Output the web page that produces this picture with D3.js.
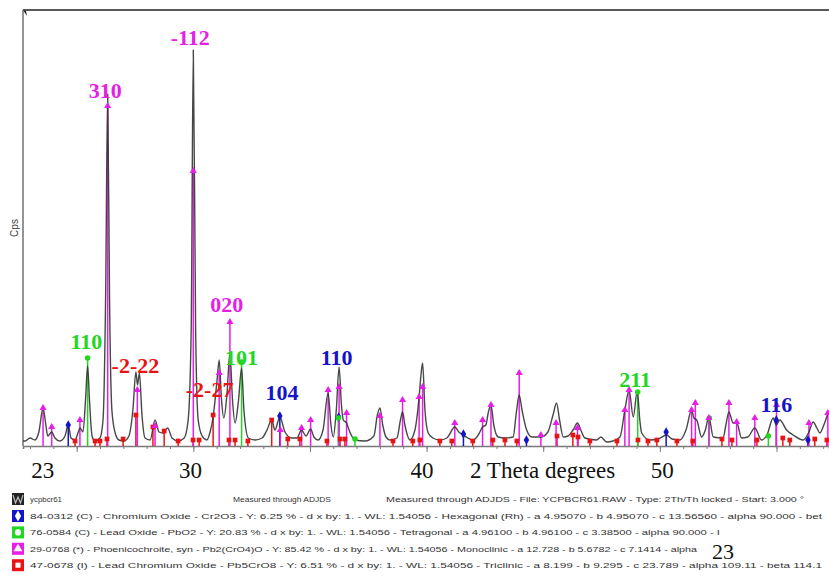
<!DOCTYPE html>
<html>
<head>
<meta charset="utf-8">
<script src="https://cdn.jsdelivr.net/npm/d3@7"></script>
<style>
  body { margin: 0; background: #fff; }
  svg { display: block; }
</style>
</head>
<body>
<div id="chart"></div>
<script>
// measured XRD profile, [2theta, cps]
const profile = [
  [22.70,50],[22.79,50],[23.00,80],[23.21,60],[23.38,140],[23.56,380],[23.68,210],[23.76,100],[23.93,140],
  [24.07,80],[24.28,50],[24.50,100],[24.64,210],[24.76,80],[24.93,60],[25.07,140],[25.14,180],[25.27,140],
  [25.38,460],[25.47,800],[25.55,460],[25.66,100],[25.79,50],[26.00,80],[26.13,260],[26.24,1460],[26.33,3520],
  [26.41,1460],[26.51,360],[26.64,140],[26.81,60],[27.03,50],[27.24,100],[27.41,360],[27.54,740],[27.61,610],
  [27.69,730],[27.80,310],[27.93,80],[28.15,60],[28.36,260],[28.53,140],[28.70,130],[28.90,180],[29.09,80],
  [29.35,50],[29.61,80],[29.78,260],[29.91,1160],[30.00,3960],[30.10,1160],[30.21,260],[30.38,100],[30.58,60],
  [30.72,140],[30.85,290],[31.02,660],[31.11,860],[31.21,460],[31.31,280],[31.44,510],[31.57,930],[31.68,460],
  [31.79,230],[31.94,460],[32.07,780],[32.17,360],[32.36,80],[32.65,60],[32.95,80],[33.16,160],[33.36,260],
  [33.50,160],[33.71,290],[33.93,140],[34.21,80],[34.44,80],[34.64,160],[34.83,100],[35.03,170],[35.17,90],
  [35.35,60],[35.56,160],[35.78,530],[35.90,210],[36.00,90],[36.13,360],[36.25,790],[36.35,410],[36.43,260],
  [36.57,230],[36.71,140],[36.93,60],[37.36,50],[37.74,100],[37.89,310],[38.00,380],[38.12,210],[38.26,90],
  [38.43,60],[38.73,80],[38.88,260],[38.97,340],[39.07,210],[39.29,60],[39.50,160],[39.68,490],[39.76,710],
  [39.83,830],[39.93,360],[40.07,130],[40.27,80],[40.57,60],[40.87,80],[41.21,190],[41.38,140],[41.57,110],
  [41.77,80],[42.00,60],[42.24,120],[42.40,190],[42.54,210],[42.65,340],[42.76,410],[42.88,210],[43.07,90],
  [43.36,80],[43.71,90],[43.85,340],[43.97,510],[44.09,360],[44.29,160],[44.52,90],[44.90,90],[45.20,140],
  [45.42,310],[45.57,430],[45.70,260],[45.86,90],[46.06,100],[46.28,160],[46.47,230],[46.61,160],[46.79,80],
  [47.29,60],[47.47,90],[47.72,40],[47.99,50],[48.29,90],[48.50,360],[48.68,560],[48.86,290],[49.03,550],
  [49.14,260],[49.22,130],[49.57,60],[49.92,70],[50.29,110],[50.52,70],[50.86,60],[51.12,160],[51.36,360],
  [51.46,280],[51.58,260],[51.79,90],[51.95,160],[52.10,290],[52.29,90],[52.71,80],[52.83,210],[52.96,340],
  [53.14,230],[53.29,240],[53.50,80],[53.77,90],[54.07,180],[54.36,60],[54.59,110],[54.86,280],[54.99,210],
  [55.14,260],[55.43,160],[55.71,110],[56.14,60],[56.39,140],[56.57,240],[56.73,180],[56.86,130],[57.03,210],
  [57.21,330]
]

// reference patterns: [2theta, stick height in cps]
const phoenicochroite = [
  [23.56,380],[23.93,190],[25.14,260],[26.33,3400],[27.60,560],[28.36,200],[30.00,2750],[31.11,730],
  [31.57,1240],[33.73,160],[34.64,180],[35.03,260],[35.78,560],[36.25,590],[36.57,330],[38.00,300],
  [38.97,460],[39.68,490],[39.83,590],[41.21,230],[42.40,260],[42.76,410],[43.97,730],[44.90,110],
  [45.55,230],[46.47,180],[48.50,360],[48.68,560],[51.36,360],[51.52,430],[52.10,280],[52.96,430],
  [53.29,240],[54.07,280],[55.00,410],[56.39,230],[57.20,330]
]
const leadChromiumOxide = [
  [24.93,50],[25.79,50],[26.00,50],[26.30,70],[26.99,70],[27.54,310],[28.27,190],[28.75,150],[29.35,50],
  [29.99,60],[30.25,60],[30.85,310],[31.53,60],[31.79,60],[32.34,50],[33.36,260],[34.05,70],[34.57,70],
  [35.73,50],[36.29,70],[36.50,70],[38.56,50],[39.41,50],[39.71,60],[40.57,50],[41.08,50],[41.98,50],
  [42.84,60],[43.36,60],[43.87,50],[45.59,100],[46.27,110],[46.49,90],[47.00,50],[48.16,50],[49.06,60],
  [49.49,50],[49.87,60],[50.73,50],[51.41,50],[52.66,70],[53.09,60],[54.16,60],[55.27,80],[55.57,60],
  [56.64,70],[57.16,60]
]
const leadOxide = [[25.47,880],[32.07,840],[36.22,280],[36.93,70],[49.05,540],[52.12,280],[54.65,100]]
const chromiumOxide = [[24.64,210],[33.71,300],[36.23,290],[41.58,120],[44.28,60],[50.27,140],[54.99,260],[56.35,60]]

// hkl labels: [text, 2theta, cps at baseline of text, colour key]
const hklLabels = [
  ["-112", 29.87, 4010, "m"], ["310", 26.23, 3480, "m"], ["020", 31.43, 1340, "m"],
  ["110", 25.42, 970, "g"], ["-2-22", 27.52, 730, "r"], ["-2-27", 30.7, 490, "r"],
  ["101", 32.07, 810, "g"], ["104", 33.80, 460, "b"], ["110", 36.14, 810, "b"],
  ["211", 48.94, 590, "g"], ["116", 54.99, 340, "b"]
]

const tickLabels = ["23", "30", "40", "50"]
const tickLabelAt = [23.55, 29.88, 39.8, 50.1]

const legendRows = [
  "84-0312 (C) - Chromium Oxide - Cr2O3 - Y: 6.25 % - d x by: 1. - WL: 1.54056 - Hexagonal (Rh) - a 4.95070 - b 4.95070 - c 13.56560 - alpha 90.000 - bet",
  "76-0584 (C) - Lead Oxide - PbO2 - Y: 20.83 % - d x by: 1. - WL: 1.54056 - Tetragonal - a 4.96100 - b 4.96100 - c 3.38500 - alpha 90.000 - I",
  "29-0768 (*) - Phoenicochroite, syn - Pb2(CrO4)O - Y: 85.42 % - d x by: 1. - WL: 1.54056 - Monoclinic - a 12.728 - b 5.6782 - c 7.1414 - alpha",
  "47-0678 (I) - Lead Chromium Oxide - Pb5CrO8 - Y: 6.51 % - d x by: 1. - WL: 1.54056 - Triclinic - a 8.199 - b 9.295 - c 23.789 - alpha 109.11 - beta 114.1"
]
const legendEnds = [822, 720, 697, 822]

const colors = { m: "#e61ee6", r: "#e81414", g: "#22d622", b: "#1414c8" }

const svgWidth = 829
const svgHeight = 580

const svg = d3.select("#chart").append("svg")
    .attr("width", svgWidth)
    .attr("height", svgHeight)

const x = d3.scaleLinear().domain([22.7, 57.25]).range([23, 829])
const y = d3.scaleLinear().domain([0, 4360]).range([446, 10])

// frame
svg.append("line")
    .attr("x1", 23).attr("x2", svgWidth).attr("y1", 10).attr("y2", 10)
    .attr("stroke", "#222").attr("stroke-width", 1.6)
svg.append("line")
    .attr("x1", 23).attr("x2", 23).attr("y1", 10).attr("y2", 446)
    .attr("stroke", "#7a7a7a").attr("stroke-width", 1.6)
svg.append("path")
    .attr("d", "M23,10 l4,6 l-1,-5 z")
    .attr("fill", "#222")

// x axis: minor ticks each degree, longer ones each 5
const minorG = svg.append("g")
    .attr("transform", `translate(0, 446)`)
    .call(d3.axisBottom(x).tickValues(d3.range(23, 58)).tickSize(3).tickFormat(""))
minorG.select(".domain").attr("stroke", "#7a7a7a").attr("stroke-width", 1.6)
minorG.selectAll(".tick line").attr("stroke", "#7a7a7a")

const majorG = svg.append("g")
    .attr("transform", `translate(0, 446)`)
    .call(d3.axisBottom(x).tickValues([25, 30, 35, 40, 45, 50, 55]).tickSize(6).tickFormat(""))
majorG.select(".domain").remove()
majorG.selectAll(".tick line").attr("stroke", "#7a7a7a")

svg.selectAll(".xlab")
    .data(tickLabels)
    .enter()
    .append("text")
    .attr("class", "xlab")
    .attr("x", (d, i) => x(tickLabelAt[i]))
    .attr("y", 478)
    .attr("text-anchor", "middle")
    .attr("font-family", "Liberation Serif, serif")
    .attr("font-size", 23)
    .attr("fill", "#111")
    .text(d => d)

svg.append("text")
    .attr("x", 470)
    .attr("y", 478)
    .attr("font-family", "Liberation Serif, serif")
    .attr("font-size", 23)
    .attr("fill", "#111")
    .text("2 Theta degrees")

svg.append("text")
    .attr("transform", "translate(18, 228) rotate(-90)")
    .attr("text-anchor", "middle")
    .attr("font-family", "Liberation Sans, Arial, sans-serif")
    .attr("font-size", 10)
    .attr("fill", "#444")
    .text("Cps")

// sticks
const phases = [
  { data: leadChromiumOxide, c: colors.r, sym: d3.symbolSquare, size: 22 },
  { data: chromiumOxide, c: colors.b, sym: d3.symbolDiamond, size: 26 },
  { data: leadOxide, c: colors.g, sym: d3.symbolCircle, size: 24 },
  { data: phoenicochroite, c: colors.m, sym: d3.symbolTriangle, size: 22 }
]

const stickG = svg.append("g")
phases.forEach(p => {
    stickG.selectAll(null)
        .data(p.data)
        .enter()
        .append("line")
        .attr("x1", d => x(d[0])).attr("x2", d => x(d[0]))
        .attr("y1", y(0)).attr("y2", d => y(d[1]))
        .attr("stroke", p.c)
        .attr("stroke-width", 1.5)
})

// profile
svg.append("path")
    .datum(profile)
    .attr("fill", "none")
    .attr("stroke", "#333")
    .attr("stroke-width", 1.4)
    .attr("stroke-linejoin", "round")
    .attr("opacity", 0.9)
    .attr("d", d3.line().x(d => x(d[0])).y(d => y(d[1])).curve(d3.curveMonotoneX))

phases.forEach(p => {
    svg.append("g").selectAll("path")
        .data(p.data)
        .enter()
        .append("path")
        .attr("transform", d => `translate(${x(d[0])}, ${y(d[1])})`)
        .attr("d", d3.symbol().type(p.sym).size(p.size))
        .attr("fill", p.c)
})

// hkl labels
svg.selectAll(".hkl")
    .data(hklLabels)
    .enter()
    .append("text")
    .attr("class", "hkl")
    .attr("x", d => x(d[1]))
    .attr("y", d => y(d[2]))
    .attr("text-anchor", "middle")
    .attr("font-family", "Liberation Serif, serif")
    .attr("font-weight", "bold")
    .attr("font-size", 22)
    .attr("fill", d => colors[d[3]])
    .text(d => d[0])

// legend
const legendFont = "Liberation Sans, Arial, sans-serif"
const row0 = svg.append("g").attr("transform", "translate(0, 499)")
row0.append("rect").attr("x", 12).attr("y", -6).attr("width", 12).attr("height", 12).attr("fill", "#222")
row0.append("path").attr("d", "M13,-4 l2.5,8 l2.5,-6 l2.5,6 l2.5,-8").attr("fill", "none").attr("stroke", "#bbb").attr("stroke-width", 1.2)
const row0Text = [["ycpbcr61", 30, 62], ["Measured through ADJDS", 233, 331],
  ["Measured through ADJDS - File: YCPBCR61.RAW - Type: 2Th/Th locked - Start: 3.000 °", 386, 804]]
row0.selectAll("text")
    .data(row0Text)
    .enter()
    .append("text")
    .attr("x", d => d[1])
    .attr("y", 3)
    .attr("textLength", d => d[2] - d[1])
    .attr("lengthAdjust", "spacingAndGlyphs")
    .attr("font-family", legendFont)
    .attr("font-size", 8)
    .attr("fill", "#333")
    .text(d => d[0])

const legendSyms = [
  { c: colors.b, sym: d3.symbolDiamond, size: 34 },
  { c: colors.g, sym: d3.symbolCircle, size: 30 },
  { c: colors.m, sym: d3.symbolTriangle, size: 34 },
  { c: colors.r, sym: d3.symbolSquare, size: 26 }
]

const legendG = svg.selectAll(".leg")
    .data(legendRows)
    .enter()
    .append("g")
    .attr("class", "leg")
    .attr("transform", (d, i) => `translate(0, ${516 + i * 16.4})`)

legendG.append("rect")
    .attr("x", 12).attr("y", -6).attr("width", 12).attr("height", 12)
    .attr("fill", (d, i) => legendSyms[i].c)
legendG.append("path")
    .attr("transform", "translate(18, 0)")
    .attr("d", (d, i) => d3.symbol().type(legendSyms[i].sym).size(legendSyms[i].size)())
    .attr("fill", "#fff")
legendG.append("text")
    .attr("x", 30)
    .attr("y", 3)
    .attr("textLength", (d, i) => legendEnds[i] - 30)
    .attr("lengthAdjust", "spacingAndGlyphs")
    .attr("font-family", legendFont)
    .attr("font-size", 8)
    .attr("fill", "#333")
    .text(d => d)

svg.append("text")
    .attr("x", 723)
    .attr("y", 559)
    .attr("text-anchor", "middle")
    .attr("font-family", "Liberation Serif, serif")
    .attr("font-size", 22)
    .attr("fill", "#111")
    .text("23")
</script>
</body>
</html>
